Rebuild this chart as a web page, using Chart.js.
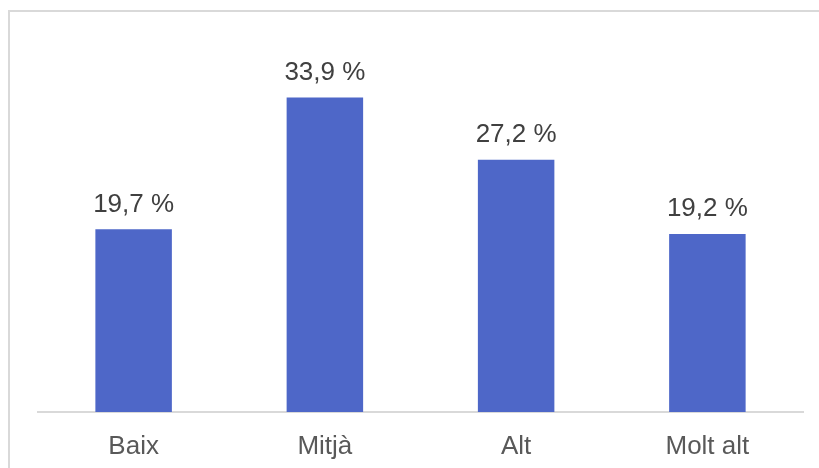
<!DOCTYPE html>
<html>
<head>
    <meta charset="UTF-8">
    <title>Nivell</title>
    <script src="https://cdn.jsdelivr.net/npm/chart.js"></script>
    <style>
        html, body { margin: 0; padding: 0; background: #fff; overflow: hidden; }
        #wrap { position: relative; width: 819px; height: 468px; }
        #frame {
            position: absolute; left: 8px; top: 10px;
            width: 830px; height: 480px;
            border-top: 2px solid #d9d9d9; border-left: 2px solid #d9d9d9;
        }
        canvas { position: absolute; left: 0; top: 0; }
    </style>
</head>
<body>
<div id="wrap">
    <div id="frame"></div>
    <canvas id="chart" width="819" height="468"></canvas>
</div>
<script>
    // categories and values (%)
    var categories = ['Baix', 'Mitjà', 'Alt', 'Molt alt'];
    var values = [19.7, 33.9, 27.2, 19.2];

    // etiquetes amb el valor damunt de cada barra
    var valueLabels = {
        id: 'valueLabels',
        afterDatasetsDraw: function(chart) {
            var ctx = chart.ctx;
            var meta = chart.getDatasetMeta(0);
            ctx.save();
            ctx.font = '26px "Liberation Sans", Arial, sans-serif';
            ctx.fillStyle = '#404040';
            ctx.textAlign = 'center';
            ctx.textBaseline = 'alphabetic';
            meta.data.forEach(function(bar, i) {
                var txt = values[i].toFixed(1).replace('.', ',') + ' %';
                ctx.fillText(txt, bar.x, bar.y - 17.5);
            });
            ctx.restore();
        }
    };

    var ctx = document.getElementById('chart').getContext('2d');
    var chart = new Chart(ctx, {
        type: 'bar',
        data: {
            labels: categories,
            datasets: [{
                data: values,
                backgroundColor: '#4e67c8',
                borderWidth: 0,
                barPercentage: 0.4,
                categoryPercentage: 1.0
            }]
        },
        options: {
            responsive: false,
            animation: false,
            layout: { padding: { top: 41, left: 38, right: 16, bottom: 0 } },
            plugins: { legend: { display: false }, tooltip: { enabled: false } },
            scales: {
                x: {
                    grid: { display: false, drawTicks: false },
                    border: { display: true, color: '#d9d9d9', width: 2 },
                    ticks: {
                        color: '#595959',
                        padding: 19,
                        font: { family: '"Liberation Sans", Arial, sans-serif', size: 26 }
                    },
                    afterFit: function(scale) { scale.height = 56; }
                },
                y: {
                    display: false,
                    min: 0,
                    max: 40
                }
            }
        },
        plugins: [valueLabels]
    });
</script>
</body>
</html>
